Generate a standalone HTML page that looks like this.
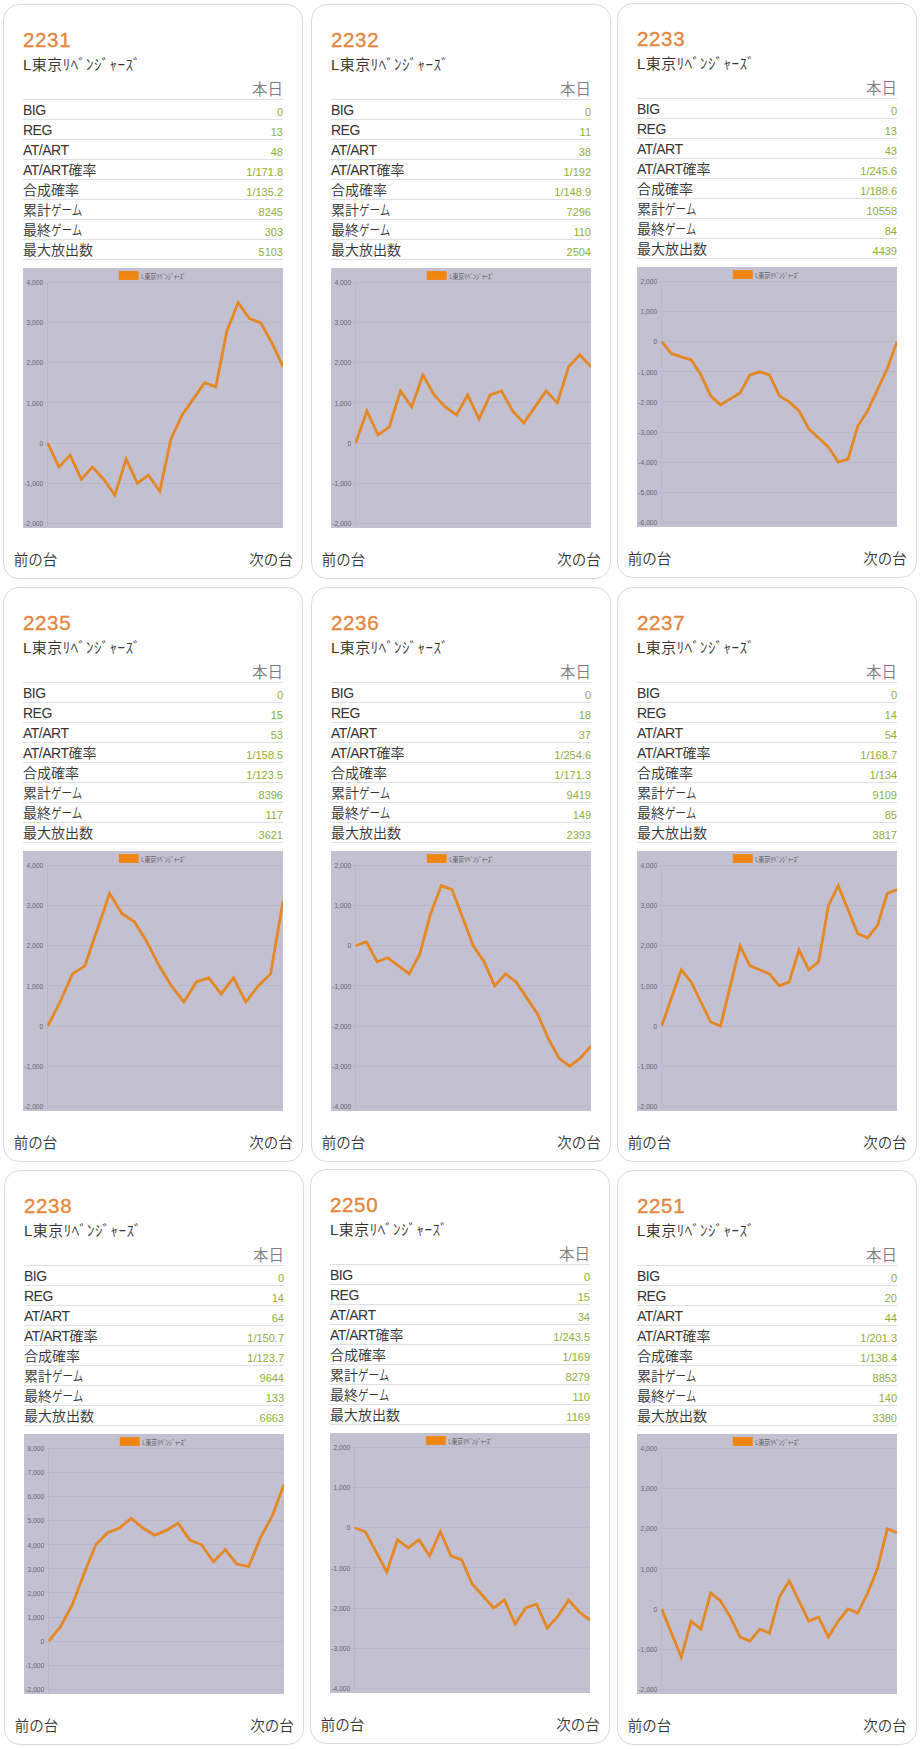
<!DOCTYPE html>
<html lang="ja"><head><meta charset="utf-8"><title>データ一覧</title>
<style>
html,body{margin:0;padding:0;background:#fff;}
body{width:921px;height:1749px;position:relative;overflow:hidden;font-family:"Liberation Sans","Noto Sans CJK JP",sans-serif;color:#3a3a3a;}
.card{position:absolute;width:298px;height:573px;border:1px solid #dadada;border-radius:16px;background:#fff;box-sizing:content-box;}
.card>*{position:absolute;margin:0;white-space:nowrap;}
.no{left:19px;top:22.5px;font-size:20.5px;letter-spacing:0.65px;line-height:24px;color:#e6853c;font-weight:400;-webkit-text-stroke:0.35px #e6853c;}
.nm{left:19px;top:49px;font-size:15px;line-height:22px;color:#333;font-weight:350;letter-spacing:0.45px;}
table{left:19px;top:72px;width:260px;border-collapse:collapse;table-layout:fixed;}
th,td{padding:0;height:19px;border-bottom:1px solid #dde1e6;font-weight:400;vertical-align:bottom;}
thead th{height:22px;text-align:right;font-size:15.5px;line-height:18px;color:#7d7d7d;padding-right:0;font-weight:350;}
tbody th{text-align:left;font-size:14px;line-height:17px;color:#333;font-weight:350;}
tbody td{text-align:right;font-size:11px;line-height:14px;color:#8db03a;}
.ch{left:19px;top:263px;display:block;}
.ch text{font-family:"Liberation Sans","Noto Sans CJK JP",sans-serif;fill:#666;}
.tk text{font-size:6.7px;fill:#646470;}
.la{letter-spacing:-0.5px;}
.ka{display:inline-block;transform:scaleX(0.75);transform-origin:0 50%;}
.lg{font-size:7.2px;fill:#43434b;font-weight:500;}
.pv{left:9.7px;top:543.5px;font-size:14.5px;line-height:22px;color:#333;font-weight:350;}
.nx{right:9.3px;top:543.5px;font-size:14.5px;line-height:22px;color:#333;font-weight:350;}
</style></head><body>
<section class="card" style="left:3px;top:4px"><h2 class="no">2231</h2><p class="nm">L東京ﾘﾍﾞﾝｼﾞｬｰｽﾞ</p><table><thead><tr><th></th><th>本日</th></tr></thead><tbody><tr><th><span class="la">BIG</span></th><td>0</td></tr><tr><th><span class="la">REG</span></th><td>13</td></tr><tr><th><span class="la">AT/ART</span></th><td>48</td></tr><tr><th><span class="la">AT/ART</span>確率</th><td>1/171.8</td></tr><tr><th>合成確率</th><td>1/135.2</td></tr><tr><th>累計<span class="ka">ゲーム</span></th><td>8245</td></tr><tr><th>最終<span class="ka">ゲーム</span></th><td>303</td></tr><tr><th>最大放出数</th><td>5103</td></tr></tbody></table><svg class="ch" width="260" height="260" viewBox="0 0 260 260"><defs><clipPath id="cp0"><rect x="24.099999999999998" y="0" width="235.9" height="260"/></clipPath></defs><rect width="260" height="260" fill="#c3c1d1"/><path d="M21.7 14.50H260.0M21.7 54.63H260.0M21.7 94.77H260.0M21.7 134.90H260.0M21.7 175.03H260.0M21.7 215.17H260.0M21.7 255.30H260.0M24.7 14.50V258.3" stroke="#b9b7cb" stroke-width="1" shape-rendering="crispEdges" fill="none"/><g class="tk"><text x="20.3" y="17.20" text-anchor="end">4,000</text><text x="20.3" y="57.33" text-anchor="end">3,000</text><text x="20.3" y="97.47" text-anchor="end">2,000</text><text x="20.3" y="137.60" text-anchor="end">1,000</text><text x="20.3" y="177.73" text-anchor="end">0</text><text x="20.3" y="217.87" text-anchor="end">-1,000</text><text x="20.3" y="258.00" text-anchor="end">-2,000</text></g><rect x="95.8" y="3.1" width="19.9" height="8.8" fill="#f0850f"/><text class="lg" x="118.2" y="10.6" textLength="44.5" lengthAdjust="spacingAndGlyphs">L東京ﾘﾍﾞﾝｼﾞｬｰｽﾞ</text><polyline clip-path="url(#cp0)" points="24.7,175.0 35.9,199.1 47.1,187.1 58.3,211.2 69.5,199.1 80.7,211.2 91.9,227.2 103.1,191.1 114.3,215.2 125.5,207.1 136.7,223.2 148.0,171.0 159.2,146.9 170.4,130.9 181.6,114.8 192.8,118.8 204.0,62.7 215.2,34.6 226.4,50.6 237.6,54.6 248.8,74.7 260.0,98.8" fill="none" stroke="#e58823" stroke-width="2.8" stroke-linejoin="miter" stroke-linecap="butt"/></svg><span class="pv">前の台</span><span class="nx">次の台</span></section>
<section class="card" style="left:311px;top:4px"><h2 class="no">2232</h2><p class="nm">L東京ﾘﾍﾞﾝｼﾞｬｰｽﾞ</p><table><thead><tr><th></th><th>本日</th></tr></thead><tbody><tr><th><span class="la">BIG</span></th><td>0</td></tr><tr><th><span class="la">REG</span></th><td>11</td></tr><tr><th><span class="la">AT/ART</span></th><td>38</td></tr><tr><th><span class="la">AT/ART</span>確率</th><td>1/192</td></tr><tr><th>合成確率</th><td>1/148.9</td></tr><tr><th>累計<span class="ka">ゲーム</span></th><td>7296</td></tr><tr><th>最終<span class="ka">ゲーム</span></th><td>110</td></tr><tr><th>最大放出数</th><td>2504</td></tr></tbody></table><svg class="ch" width="260" height="260" viewBox="0 0 260 260"><defs><clipPath id="cp1"><rect x="24.099999999999998" y="0" width="235.9" height="260"/></clipPath></defs><rect width="260" height="260" fill="#c3c1d1"/><path d="M21.7 14.50H260.0M21.7 54.63H260.0M21.7 94.77H260.0M21.7 134.90H260.0M21.7 175.03H260.0M21.7 215.17H260.0M21.7 255.30H260.0M24.7 14.50V258.3" stroke="#b9b7cb" stroke-width="1" shape-rendering="crispEdges" fill="none"/><g class="tk"><text x="20.3" y="17.20" text-anchor="end">4,000</text><text x="20.3" y="57.33" text-anchor="end">3,000</text><text x="20.3" y="97.47" text-anchor="end">2,000</text><text x="20.3" y="137.60" text-anchor="end">1,000</text><text x="20.3" y="177.73" text-anchor="end">0</text><text x="20.3" y="217.87" text-anchor="end">-1,000</text><text x="20.3" y="258.00" text-anchor="end">-2,000</text></g><rect x="95.8" y="3.1" width="19.9" height="8.8" fill="#f0850f"/><text class="lg" x="118.2" y="10.6" textLength="44.5" lengthAdjust="spacingAndGlyphs">L東京ﾘﾍﾞﾝｼﾞｬｰｽﾞ</text><polyline clip-path="url(#cp1)" points="24.7,175.0 35.9,142.9 47.1,167.0 58.3,159.0 69.5,122.9 80.7,138.9 91.9,106.8 103.1,126.9 114.3,138.9 125.5,146.9 136.7,126.9 148.0,151.0 159.2,126.9 170.4,122.9 181.6,142.9 192.8,155.0 204.0,138.9 215.2,122.9 226.4,134.9 237.6,98.8 248.8,86.7 260.0,98.8" fill="none" stroke="#e58823" stroke-width="2.8" stroke-linejoin="miter" stroke-linecap="butt"/></svg><span class="pv">前の台</span><span class="nx">次の台</span></section>
<section class="card" style="left:617px;top:3px"><h2 class="no">2233</h2><p class="nm">L東京ﾘﾍﾞﾝｼﾞｬｰｽﾞ</p><table><thead><tr><th></th><th>本日</th></tr></thead><tbody><tr><th><span class="la">BIG</span></th><td>0</td></tr><tr><th><span class="la">REG</span></th><td>13</td></tr><tr><th><span class="la">AT/ART</span></th><td>43</td></tr><tr><th><span class="la">AT/ART</span>確率</th><td>1/245.6</td></tr><tr><th>合成確率</th><td>1/188.6</td></tr><tr><th>累計<span class="ka">ゲーム</span></th><td>10558</td></tr><tr><th>最終<span class="ka">ゲーム</span></th><td>84</td></tr><tr><th>最大放出数</th><td>4439</td></tr></tbody></table><svg class="ch" width="260" height="260" viewBox="0 0 260 260"><defs><clipPath id="cp2"><rect x="24.099999999999998" y="0" width="235.9" height="260"/></clipPath></defs><rect width="260" height="260" fill="#c3c1d1"/><path d="M21.7 14.50H260.0M21.7 44.60H260.0M21.7 74.70H260.0M21.7 104.80H260.0M21.7 134.90H260.0M21.7 165.00H260.0M21.7 195.10H260.0M21.7 225.20H260.0M21.7 255.30H260.0M24.7 14.50V258.3" stroke="#b9b7cb" stroke-width="1" shape-rendering="crispEdges" fill="none"/><g class="tk"><text x="20.3" y="17.20" text-anchor="end">2,000</text><text x="20.3" y="47.30" text-anchor="end">1,000</text><text x="20.3" y="77.40" text-anchor="end">0</text><text x="20.3" y="107.50" text-anchor="end">-1,000</text><text x="20.3" y="137.60" text-anchor="end">-2,000</text><text x="20.3" y="167.70" text-anchor="end">-3,000</text><text x="20.3" y="197.80" text-anchor="end">-4,000</text><text x="20.3" y="227.90" text-anchor="end">-5,000</text><text x="20.3" y="258.00" text-anchor="end">-6,000</text></g><rect x="95.8" y="3.1" width="19.9" height="8.8" fill="#f0850f"/><text class="lg" x="118.2" y="10.6" textLength="44.5" lengthAdjust="spacingAndGlyphs">L東京ﾘﾍﾞﾝｼﾞｬｰｽﾞ</text><polyline clip-path="url(#cp2)" points="24.7,74.7 34.5,86.7 44.3,89.8 54.1,92.8 63.9,107.8 73.7,128.9 83.5,137.9 93.3,131.9 103.1,125.9 112.9,107.8 122.7,104.8 132.5,107.8 142.4,128.9 152.2,134.9 162.0,143.9 171.8,162.0 181.6,171.0 191.4,180.1 201.2,195.1 211.0,192.1 220.8,159.0 230.6,143.9 240.4,122.9 250.2,101.8 260.0,74.7" fill="none" stroke="#e58823" stroke-width="2.8" stroke-linejoin="miter" stroke-linecap="butt"/></svg><span class="pv">前の台</span><span class="nx">次の台</span></section>
<section class="card" style="left:3px;top:587px"><h2 class="no">2235</h2><p class="nm">L東京ﾘﾍﾞﾝｼﾞｬｰｽﾞ</p><table><thead><tr><th></th><th>本日</th></tr></thead><tbody><tr><th><span class="la">BIG</span></th><td>0</td></tr><tr><th><span class="la">REG</span></th><td>15</td></tr><tr><th><span class="la">AT/ART</span></th><td>53</td></tr><tr><th><span class="la">AT/ART</span>確率</th><td>1/158.5</td></tr><tr><th>合成確率</th><td>1/123.5</td></tr><tr><th>累計<span class="ka">ゲーム</span></th><td>8396</td></tr><tr><th>最終<span class="ka">ゲーム</span></th><td>117</td></tr><tr><th>最大放出数</th><td>3621</td></tr></tbody></table><svg class="ch" width="260" height="260" viewBox="0 0 260 260"><defs><clipPath id="cp3"><rect x="24.099999999999998" y="0" width="235.9" height="260"/></clipPath></defs><rect width="260" height="260" fill="#c3c1d1"/><path d="M21.7 14.50H260.0M21.7 54.63H260.0M21.7 94.77H260.0M21.7 134.90H260.0M21.7 175.03H260.0M21.7 215.17H260.0M21.7 255.30H260.0M24.7 14.50V258.3" stroke="#b9b7cb" stroke-width="1" shape-rendering="crispEdges" fill="none"/><g class="tk"><text x="20.3" y="17.20" text-anchor="end">4,000</text><text x="20.3" y="57.33" text-anchor="end">3,000</text><text x="20.3" y="97.47" text-anchor="end">2,000</text><text x="20.3" y="137.60" text-anchor="end">1,000</text><text x="20.3" y="177.73" text-anchor="end">0</text><text x="20.3" y="217.87" text-anchor="end">-1,000</text><text x="20.3" y="258.00" text-anchor="end">-2,000</text></g><rect x="95.8" y="3.1" width="19.9" height="8.8" fill="#f0850f"/><text class="lg" x="118.2" y="10.6" textLength="44.5" lengthAdjust="spacingAndGlyphs">L東京ﾘﾍﾞﾝｼﾞｬｰｽﾞ</text><polyline clip-path="url(#cp3)" points="24.7,175.0 37.1,151.0 49.5,122.9 61.9,114.8 74.2,78.7 86.6,42.6 99.0,62.7 111.4,70.7 123.8,90.8 136.2,114.8 148.5,134.9 160.9,151.0 173.3,130.9 185.7,126.9 198.1,142.9 210.5,126.9 222.8,151.0 235.2,134.9 247.6,122.9 260.0,50.6" fill="none" stroke="#e58823" stroke-width="2.8" stroke-linejoin="miter" stroke-linecap="butt"/></svg><span class="pv">前の台</span><span class="nx">次の台</span></section>
<section class="card" style="left:311px;top:587px"><h2 class="no">2236</h2><p class="nm">L東京ﾘﾍﾞﾝｼﾞｬｰｽﾞ</p><table><thead><tr><th></th><th>本日</th></tr></thead><tbody><tr><th><span class="la">BIG</span></th><td>0</td></tr><tr><th><span class="la">REG</span></th><td>18</td></tr><tr><th><span class="la">AT/ART</span></th><td>37</td></tr><tr><th><span class="la">AT/ART</span>確率</th><td>1/254.6</td></tr><tr><th>合成確率</th><td>1/171.3</td></tr><tr><th>累計<span class="ka">ゲーム</span></th><td>9419</td></tr><tr><th>最終<span class="ka">ゲーム</span></th><td>149</td></tr><tr><th>最大放出数</th><td>2393</td></tr></tbody></table><svg class="ch" width="260" height="260" viewBox="0 0 260 260"><defs><clipPath id="cp4"><rect x="24.099999999999998" y="0" width="235.9" height="260"/></clipPath></defs><rect width="260" height="260" fill="#c3c1d1"/><path d="M21.7 14.50H260.0M21.7 54.63H260.0M21.7 94.77H260.0M21.7 134.90H260.0M21.7 175.03H260.0M21.7 215.17H260.0M21.7 255.30H260.0M24.7 14.50V258.3" stroke="#b9b7cb" stroke-width="1" shape-rendering="crispEdges" fill="none"/><g class="tk"><text x="20.3" y="17.20" text-anchor="end">2,000</text><text x="20.3" y="57.33" text-anchor="end">1,000</text><text x="20.3" y="97.47" text-anchor="end">0</text><text x="20.3" y="137.60" text-anchor="end">-1,000</text><text x="20.3" y="177.73" text-anchor="end">-2,000</text><text x="20.3" y="217.87" text-anchor="end">-3,000</text><text x="20.3" y="258.00" text-anchor="end">-4,000</text></g><rect x="95.8" y="3.1" width="19.9" height="8.8" fill="#f0850f"/><text class="lg" x="118.2" y="10.6" textLength="44.5" lengthAdjust="spacingAndGlyphs">L東京ﾘﾍﾞﾝｼﾞｬｰｽﾞ</text><polyline clip-path="url(#cp4)" points="24.7,94.8 35.4,90.8 46.1,110.8 56.8,106.8 67.5,114.8 78.2,122.9 88.9,102.8 99.6,62.7 110.3,34.6 121.0,38.6 131.7,66.7 142.3,94.8 153.0,110.8 163.7,134.9 174.4,122.9 185.1,130.9 195.8,146.9 206.5,163.0 217.2,187.1 227.9,207.1 238.6,215.2 249.3,207.1 260.0,195.1" fill="none" stroke="#e58823" stroke-width="2.8" stroke-linejoin="miter" stroke-linecap="butt"/></svg><span class="pv">前の台</span><span class="nx">次の台</span></section>
<section class="card" style="left:617px;top:587px"><h2 class="no">2237</h2><p class="nm">L東京ﾘﾍﾞﾝｼﾞｬｰｽﾞ</p><table><thead><tr><th></th><th>本日</th></tr></thead><tbody><tr><th><span class="la">BIG</span></th><td>0</td></tr><tr><th><span class="la">REG</span></th><td>14</td></tr><tr><th><span class="la">AT/ART</span></th><td>54</td></tr><tr><th><span class="la">AT/ART</span>確率</th><td>1/168.7</td></tr><tr><th>合成確率</th><td>1/134</td></tr><tr><th>累計<span class="ka">ゲーム</span></th><td>9109</td></tr><tr><th>最終<span class="ka">ゲーム</span></th><td>85</td></tr><tr><th>最大放出数</th><td>3817</td></tr></tbody></table><svg class="ch" width="260" height="260" viewBox="0 0 260 260"><defs><clipPath id="cp5"><rect x="24.099999999999998" y="0" width="235.9" height="260"/></clipPath></defs><rect width="260" height="260" fill="#c3c1d1"/><path d="M21.7 14.50H260.0M21.7 54.63H260.0M21.7 94.77H260.0M21.7 134.90H260.0M21.7 175.03H260.0M21.7 215.17H260.0M21.7 255.30H260.0M24.7 14.50V258.3" stroke="#b9b7cb" stroke-width="1" shape-rendering="crispEdges" fill="none"/><g class="tk"><text x="20.3" y="17.20" text-anchor="end">4,000</text><text x="20.3" y="57.33" text-anchor="end">3,000</text><text x="20.3" y="97.47" text-anchor="end">2,000</text><text x="20.3" y="137.60" text-anchor="end">1,000</text><text x="20.3" y="177.73" text-anchor="end">0</text><text x="20.3" y="217.87" text-anchor="end">-1,000</text><text x="20.3" y="258.00" text-anchor="end">-2,000</text></g><rect x="95.8" y="3.1" width="19.9" height="8.8" fill="#f0850f"/><text class="lg" x="118.2" y="10.6" textLength="44.5" lengthAdjust="spacingAndGlyphs">L東京ﾘﾍﾞﾝｼﾞｬｰｽﾞ</text><polyline clip-path="url(#cp5)" points="24.7,175.0 34.5,146.9 44.3,118.8 54.1,130.9 63.9,151.0 73.7,171.0 83.5,175.0 93.3,134.9 103.1,94.8 112.9,114.8 122.7,118.8 132.5,122.9 142.4,134.9 152.2,130.9 162.0,98.8 171.8,118.8 181.6,110.8 191.4,54.6 201.2,34.6 211.0,58.6 220.8,82.7 230.6,86.7 240.4,74.7 250.2,42.6 260.0,38.6" fill="none" stroke="#e58823" stroke-width="2.8" stroke-linejoin="miter" stroke-linecap="butt"/></svg><span class="pv">前の台</span><span class="nx">次の台</span></section>
<section class="card" style="left:4px;top:1170px"><h2 class="no">2238</h2><p class="nm">L東京ﾘﾍﾞﾝｼﾞｬｰｽﾞ</p><table><thead><tr><th></th><th>本日</th></tr></thead><tbody><tr><th><span class="la">BIG</span></th><td>0</td></tr><tr><th><span class="la">REG</span></th><td>14</td></tr><tr><th><span class="la">AT/ART</span></th><td>64</td></tr><tr><th><span class="la">AT/ART</span>確率</th><td>1/150.7</td></tr><tr><th>合成確率</th><td>1/123.7</td></tr><tr><th>累計<span class="ka">ゲーム</span></th><td>9644</td></tr><tr><th>最終<span class="ka">ゲーム</span></th><td>133</td></tr><tr><th>最大放出数</th><td>6663</td></tr></tbody></table><svg class="ch" width="260" height="260" viewBox="0 0 260 260"><defs><clipPath id="cp6"><rect x="24.099999999999998" y="0" width="235.9" height="260"/></clipPath></defs><rect width="260" height="260" fill="#c3c1d1"/><path d="M21.7 14.50H260.0M21.7 38.58H260.0M21.7 62.66H260.0M21.7 86.74H260.0M21.7 110.82H260.0M21.7 134.90H260.0M21.7 158.98H260.0M21.7 183.06H260.0M21.7 207.14H260.0M21.7 231.22H260.0M21.7 255.30H260.0M24.7 14.50V258.3" stroke="#b9b7cb" stroke-width="1" shape-rendering="crispEdges" fill="none"/><g class="tk"><text x="20.3" y="17.20" text-anchor="end">8,000</text><text x="20.3" y="41.28" text-anchor="end">7,000</text><text x="20.3" y="65.36" text-anchor="end">6,000</text><text x="20.3" y="89.44" text-anchor="end">5,000</text><text x="20.3" y="113.52" text-anchor="end">4,000</text><text x="20.3" y="137.60" text-anchor="end">3,000</text><text x="20.3" y="161.68" text-anchor="end">2,000</text><text x="20.3" y="185.76" text-anchor="end">1,000</text><text x="20.3" y="209.84" text-anchor="end">0</text><text x="20.3" y="233.92" text-anchor="end">-1,000</text><text x="20.3" y="258.00" text-anchor="end">-2,000</text></g><rect x="95.8" y="3.1" width="19.9" height="8.8" fill="#f0850f"/><text class="lg" x="118.2" y="10.6" textLength="44.5" lengthAdjust="spacingAndGlyphs">L東京ﾘﾍﾞﾝｼﾞｬｰｽﾞ</text><polyline clip-path="url(#cp6)" points="24.7,207.1 36.5,192.7 48.2,171.0 60.0,139.7 71.8,110.8 83.5,98.8 95.3,94.0 107.1,84.3 118.8,94.0 130.6,101.2 142.3,96.4 154.1,89.1 165.9,106.0 177.6,110.8 189.4,127.7 201.2,115.6 212.9,130.1 224.7,132.5 236.5,103.6 248.2,81.9 260.0,50.6" fill="none" stroke="#e58823" stroke-width="2.8" stroke-linejoin="miter" stroke-linecap="butt"/></svg><span class="pv">前の台</span><span class="nx">次の台</span></section>
<section class="card" style="left:310px;top:1169px"><h2 class="no">2250</h2><p class="nm">L東京ﾘﾍﾞﾝｼﾞｬｰｽﾞ</p><table><thead><tr><th></th><th>本日</th></tr></thead><tbody><tr><th><span class="la">BIG</span></th><td>0</td></tr><tr><th><span class="la">REG</span></th><td>15</td></tr><tr><th><span class="la">AT/ART</span></th><td>34</td></tr><tr><th><span class="la">AT/ART</span>確率</th><td>1/243.5</td></tr><tr><th>合成確率</th><td>1/169</td></tr><tr><th>累計<span class="ka">ゲーム</span></th><td>8279</td></tr><tr><th>最終<span class="ka">ゲーム</span></th><td>110</td></tr><tr><th>最大放出数</th><td>1169</td></tr></tbody></table><svg class="ch" width="260" height="260" viewBox="0 0 260 260"><defs><clipPath id="cp7"><rect x="24.099999999999998" y="0" width="235.9" height="260"/></clipPath></defs><rect width="260" height="260" fill="#c3c1d1"/><path d="M21.7 14.50H260.0M21.7 54.63H260.0M21.7 94.77H260.0M21.7 134.90H260.0M21.7 175.03H260.0M21.7 215.17H260.0M21.7 255.30H260.0M24.7 14.50V258.3" stroke="#b9b7cb" stroke-width="1" shape-rendering="crispEdges" fill="none"/><g class="tk"><text x="20.3" y="17.20" text-anchor="end">2,000</text><text x="20.3" y="57.33" text-anchor="end">1,000</text><text x="20.3" y="97.47" text-anchor="end">0</text><text x="20.3" y="137.60" text-anchor="end">-1,000</text><text x="20.3" y="177.73" text-anchor="end">-2,000</text><text x="20.3" y="217.87" text-anchor="end">-3,000</text><text x="20.3" y="258.00" text-anchor="end">-4,000</text></g><rect x="95.8" y="3.1" width="19.9" height="8.8" fill="#f0850f"/><text class="lg" x="118.2" y="10.6" textLength="44.5" lengthAdjust="spacingAndGlyphs">L東京ﾘﾍﾞﾝｼﾞｬｰｽﾞ</text><polyline clip-path="url(#cp7)" points="24.7,94.8 35.4,98.8 46.1,118.8 56.8,138.9 67.5,106.8 78.2,114.8 88.9,106.8 99.6,122.9 110.3,98.8 121.0,122.9 131.7,126.9 142.3,151.0 153.0,163.0 163.7,175.0 174.4,167.0 185.1,191.1 195.8,175.0 206.5,171.0 217.2,195.1 227.9,183.1 238.6,167.0 249.3,179.0 260.0,187.1" fill="none" stroke="#e58823" stroke-width="2.8" stroke-linejoin="miter" stroke-linecap="butt"/></svg><span class="pv">前の台</span><span class="nx">次の台</span></section>
<section class="card" style="left:617px;top:1170px"><h2 class="no">2251</h2><p class="nm">L東京ﾘﾍﾞﾝｼﾞｬｰｽﾞ</p><table><thead><tr><th></th><th>本日</th></tr></thead><tbody><tr><th><span class="la">BIG</span></th><td>0</td></tr><tr><th><span class="la">REG</span></th><td>20</td></tr><tr><th><span class="la">AT/ART</span></th><td>44</td></tr><tr><th><span class="la">AT/ART</span>確率</th><td>1/201.3</td></tr><tr><th>合成確率</th><td>1/138.4</td></tr><tr><th>累計<span class="ka">ゲーム</span></th><td>8853</td></tr><tr><th>最終<span class="ka">ゲーム</span></th><td>140</td></tr><tr><th>最大放出数</th><td>3380</td></tr></tbody></table><svg class="ch" width="260" height="260" viewBox="0 0 260 260"><defs><clipPath id="cp8"><rect x="24.099999999999998" y="0" width="235.9" height="260"/></clipPath></defs><rect width="260" height="260" fill="#c3c1d1"/><path d="M21.7 14.50H260.0M21.7 54.63H260.0M21.7 94.77H260.0M21.7 134.90H260.0M21.7 175.03H260.0M21.7 215.17H260.0M21.7 255.30H260.0M24.7 14.50V258.3" stroke="#b9b7cb" stroke-width="1" shape-rendering="crispEdges" fill="none"/><g class="tk"><text x="20.3" y="17.20" text-anchor="end">4,000</text><text x="20.3" y="57.33" text-anchor="end">3,000</text><text x="20.3" y="97.47" text-anchor="end">2,000</text><text x="20.3" y="137.60" text-anchor="end">1,000</text><text x="20.3" y="177.73" text-anchor="end">0</text><text x="20.3" y="217.87" text-anchor="end">-1,000</text><text x="20.3" y="258.00" text-anchor="end">-2,000</text></g><rect x="95.8" y="3.1" width="19.9" height="8.8" fill="#f0850f"/><text class="lg" x="118.2" y="10.6" textLength="44.5" lengthAdjust="spacingAndGlyphs">L東京ﾘﾍﾞﾝｼﾞｬｰｽﾞ</text><polyline clip-path="url(#cp8)" points="24.7,175.0 34.5,199.1 44.3,223.2 54.1,187.1 63.9,195.1 73.7,159.0 83.5,167.0 93.3,183.1 103.1,203.1 112.9,207.1 122.7,195.1 132.5,199.1 142.4,163.0 152.2,146.9 162.0,167.0 171.8,187.1 181.6,183.1 191.4,203.1 201.2,187.1 211.0,175.0 220.8,179.0 230.6,159.0 240.4,134.9 250.2,94.8 260.0,98.8" fill="none" stroke="#e58823" stroke-width="2.8" stroke-linejoin="miter" stroke-linecap="butt"/></svg><span class="pv">前の台</span><span class="nx">次の台</span></section>
</body></html>
